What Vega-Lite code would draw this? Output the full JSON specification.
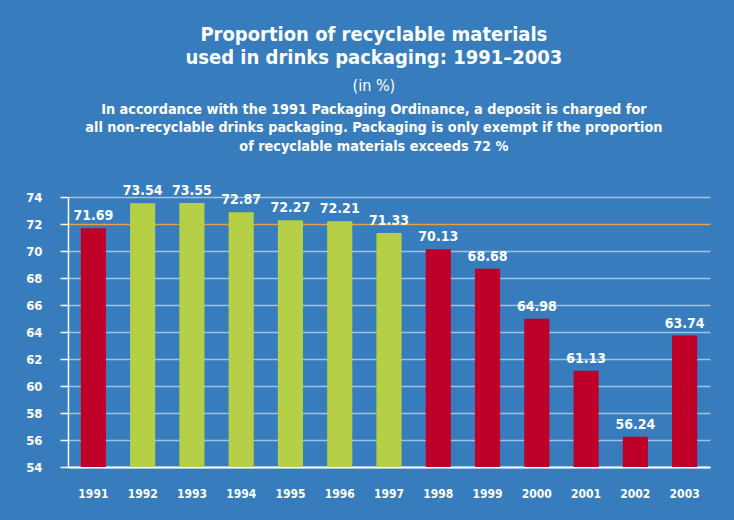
{
  "$schema": "https://vega.github.io/schema/vega-lite/v6.json",
  "background": "#377dbd",
  "padding": {"left": 25, "top": 24, "right": 24, "bottom": 21},
  "title": {
    "text": ["Proportion of recyclable materials", "used in drinks packaging: 1991–2003"],
    "subtitle": "(in %)",
    "font": "DejaVu Sans Condensed, sans-serif",
    "subtitleFont": "DejaVu Sans Condensed, sans-serif",
    "fontSize": 20,
    "fontWeight": "bold",
    "lineHeight": 23,
    "color": "white",
    "subtitleColor": "white",
    "subtitleFontSize": 16,
    "subtitleFontWeight": "normal",
    "subtitlePadding": 10,
    "anchor": "middle",
    "frame": "bounds",
    "dx": 6,
    "offset": 9
  },
  "datasets": {
    "packaging": [
      {"year": "1991", "share": 71.69, "colour": "red"},
      {"year": "1992", "share": 73.54, "colour": "green"},
      {"year": "1993", "share": 73.55, "colour": "green"},
      {"year": "1994", "share": 72.87, "colour": "green"},
      {"year": "1995", "share": 72.27, "colour": "green"},
      {"year": "1996", "share": 72.21, "colour": "green"},
      {"year": "1997", "share": 71.33, "colour": "green"},
      {"year": "1998", "share": 70.13, "colour": "red"},
      {"year": "1999", "share": 68.68, "colour": "red"},
      {"year": "2000", "share": 64.98, "colour": "red"},
      {"year": "2001", "share": 61.13, "colour": "red"},
      {"year": "2002", "share": 56.24, "colour": "red"},
      {"year": "2003", "share": 63.74, "colour": "red"}
    ]
  },
  "vconcat": [
    {
      "width": 642,
      "height": 270,
      "title": {
        "text": [
          "In accordance with the 1991 Packaging Ordinance, a deposit is charged for",
          "all non-recyclable drinks packaging. Packaging is only exempt if the proportion",
          "of recyclable materials exceeds 72 %"
        ],
        "font": "DejaVu Sans Condensed, sans-serif",
        "fontSize": 14.3,
        "fontWeight": "bold",
        "lineHeight": 18.5,
        "color": "white",
        "anchor": "middle",
        "frame": "bounds",
        "dx": 6,
        "offset": 30
      },
      "data": {"name": "packaging"},
      "encoding": {
        "x": {
          "field": "year",
          "type": "nominal",
          "scale": {"paddingInner": 0.49, "paddingOuter": 0.26},
          "axis": {
            "title": null,
            "labelAngle": 0,
            "ticks": false,
            "labelPadding": 21,
            "labelFontSize": 12,
            "labelFontWeight": "bold",
            "labelColor": "white",
            "labelFont": "DejaVu Sans Condensed, sans-serif",
            "domainColor": "white",
            "domainWidth": 2,
            "grid": false
          }
        },
        "y": {
          "field": "share",
          "type": "quantitative",
          "scale": {"domain": [54, 74], "zero": false, "nice": false},
          "axis": {
            "title": null,
            "values": [54, 56, 58, 60, 62, 64, 66, 68, 70, 72, 74],
            "labelPadding": 18,
            "labelFontSize": 13,
            "labelFontWeight": "bold",
            "labelColor": "white",
            "labelFont": "DejaVu Sans Condensed, sans-serif",
            "tickSize": 8,
            "tickColor": "white",
            "tickWidth": 1.5,
            "domainColor": "white",
            "domainWidth": 1.5,
            "grid": true,
            "gridWidth": 1.5,
            "gridColor": {"condition": {"test": "datum.value === 72", "value": "#e8a23c"}, "value": "#9fc2e4"}
          }
        }
      },
      "layer": [
        {
          "mark": {"type": "bar"},
          "encoding": {
            "y2": {"datum": 54},
            "color": {
              "field": "colour",
              "type": "nominal",
              "scale": {"domain": ["red", "green"], "range": ["#be0028", "#b5d046"]},
              "legend": null
            }
          }
        },
        {
          "mark": {
            "type": "text",
            "dy": -8,
            "baseline": "alphabetic",
            "fontSize": 14,
            "fontWeight": "bold",
            "color": "white",
            "font": "DejaVu Sans Condensed, sans-serif"
          },
          "encoding": {
            "text": {"field": "share", "type": "quantitative", "format": ".2f"}
          }
        }
      ]
    }
  ],
  "config": {"view": {"stroke": null}}
}
